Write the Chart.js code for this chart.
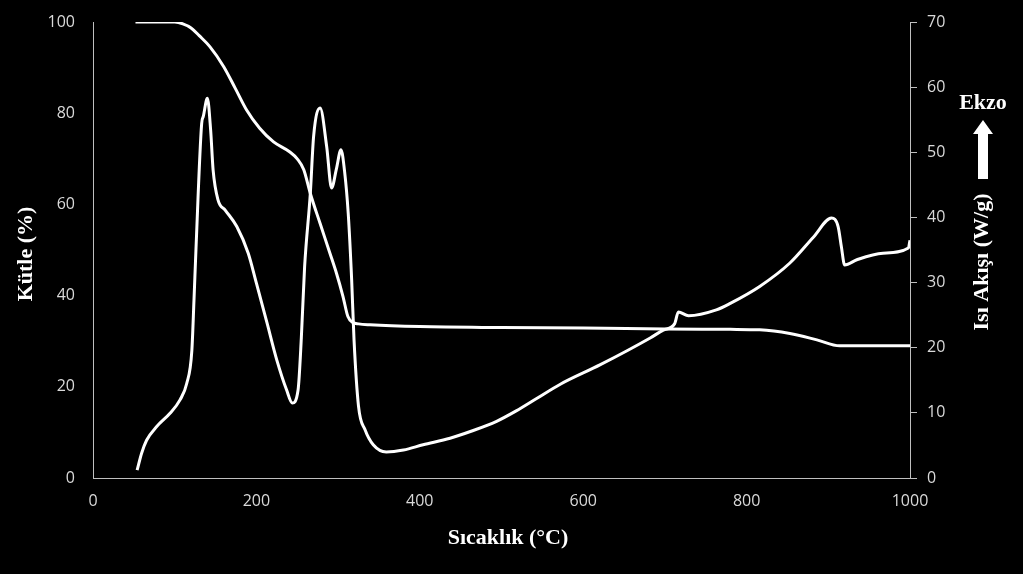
<!DOCTYPE html>
<html>
<head>
<meta charset="utf-8">
<script src="https://cdn.jsdelivr.net/npm/chart.js@4.4.1/dist/chart.umd.min.js"></script>
<style>
  html, body { margin: 0; padding: 0; background: #000; }
  #wrap { width: 1023px; height: 574px; }
</style>
</head>
<body>
<div id="wrap"><canvas id="tgaChart" width="1023" height="574"></canvas></div>
<script>
// TGA - mass (%) vs temperature
const massTemp = [52, 100, 110, 120, 130, 143, 160, 174, 188, 204, 221, 241, 250, 258, 266, 278, 290, 298, 306, 312, 318, 325, 339, 400, 500, 600, 700, 780, 816, 853, 886, 914, 1000];
const massVals = [100, 100, 99.6, 98.7, 97.0, 94.6, 90.2, 85.5, 80.7, 76.7, 73.7, 71.5, 70.0, 67.6, 62.4, 55.8, 49.3, 44.9, 39.8, 35.4, 34.1, 33.8, 33.6, 33.2, 33.0, 32.9, 32.7, 32.6, 32.5, 31.7, 30.3, 29.0, 29.0];

// DSC - heat flow (W/g) vs temperature
const heatTemp = [54, 59.5, 65.6, 78, 94, 106.5, 114.7, 121, 123.6, 126, 133, 135, 140, 144, 147, 153, 162, 176, 190, 200, 213, 225, 237, 244, 251, 255, 259, 266, 270, 278, 286, 292, 298, 303.5, 308, 312.4, 316.6, 319.5, 325, 333, 343, 359, 380, 404, 437, 461, 494, 518, 543, 572, 621, 682, 698, 712, 716.5, 729, 763, 780, 816, 853, 882, 904, 912, 916, 920, 935, 967, 998, 1000];
const heatVals = [1.2, 3.8, 5.8, 7.9, 9.9, 12, 14.5, 19.6, 27.3, 35, 54.4, 55.5, 58.3, 53.4, 47.3, 42.7, 41.1, 38.6, 34.5, 29.9, 23.8, 18.1, 13.5, 11.5, 13.5, 21.5, 32.4, 43.7, 52.4, 56.8, 50.9, 44.5, 47.5, 50.4, 47, 40.6, 30.4, 21.2, 11, 7.4, 5.1, 4.0, 4.3, 5.1, 6.1, 7.1, 8.7, 10.3, 12.2, 14.4, 17.4, 21.5, 22.7, 23.7, 25.5, 24.9, 25.8, 26.8, 29.4, 33.0, 37.0, 39.9, 38.6, 35.5, 32.7, 33.5, 34.5, 35.3, 36.5];

const xTicks = [0, 200, 400, 600, 800, 1000];

const axisColor = '#bfbfbf';
const tickColor = '#d9d9d9';
const tickFont = { family: 'Open Sans', size: 16 };
const titleFont = 'bold 22px "Liberation Serif"';

function toPoints(xs, ys) {
  return xs.map((x, i) => ({ x: x, y: ys[i] }));
}

// fixed width for the y axes, no extra label padding on top
function fixY(width) {
  return s => {
    s.width = width;
    s.paddingTop = 0;
    s.paddingBottom = 0;
  };
}

// Axis titles + Ekzo arrow
const titlesPlugin = {
  id: 'titles',
  afterDraw(chart) {
    const ctx = chart.ctx;
    ctx.save();
    ctx.fillStyle = '#ffffff';
    ctx.font = titleFont;
    ctx.textAlign = 'center';
    ctx.textBaseline = 'middle';

    ctx.fillText('Sıcaklık (°C)', 508, 538);
    ctx.fillText('Ekzo', 983, 103);

    ctx.save();
    ctx.translate(26, 254);
    ctx.rotate(-Math.PI / 2);
    ctx.fillText('Kütle (%)', 0, 0);
    ctx.restore();

    ctx.save();
    ctx.translate(982, 262);
    ctx.rotate(-Math.PI / 2);
    ctx.fillText('Isı Akışı (W/g)', 0, 0);
    ctx.restore();

    // arrow
    ctx.beginPath();
    ctx.moveTo(983, 120);
    ctx.lineTo(993, 134);
    ctx.lineTo(988, 134);
    ctx.lineTo(988, 179);
    ctx.lineTo(978, 179);
    ctx.lineTo(978, 134);
    ctx.lineTo(973, 134);
    ctx.closePath();
    ctx.fill();
    ctx.restore();
  }
};

new Chart(document.getElementById('tgaChart'), {
  type: 'line',
  data: {
    datasets: [
      {
        label: 'Kütle',
        data: toPoints(massTemp, massVals),
        yAxisID: 'y',
        borderColor: '#ffffff',
        borderWidth: 3,
        pointRadius: 0,
        cubicInterpolationMode: 'monotone'
      },
      {
        label: 'Isı Akışı',
        data: toPoints(heatTemp, heatVals),
        yAxisID: 'y1',
        borderColor: '#ffffff',
        borderWidth: 3,
        pointRadius: 0,
        cubicInterpolationMode: 'monotone'
      }
    ]
  },
  options: {
    responsive: false,
    animation: false,
    layout: { padding: { top: 22, left: 0, right: 0, bottom: 0 } },
    plugins: { legend: { display: false }, tooltip: { enabled: false } },
    scales: {
      x: {
        type: 'linear',
        min: 0, max: 1000,
        afterBuildTicks: s => { s.ticks = xTicks.map(v => ({ value: v })); },
        afterFit: s => { s.height = 96; },
        grid: { drawOnChartArea: false, drawTicks: false },
        border: { display: true, color: axisColor, width: 1 },
        ticks: { color: tickColor, font: tickFont, padding: 14, maxRotation: 0, callback: v => String(v) }
      },
      y: {
        position: 'left',
        min: 0, max: 100,
        afterFit: fixY(93),
        grid: { drawOnChartArea: false, drawTicks: false },
        border: { display: true, color: axisColor, width: 1 },
        ticks: { color: tickColor, font: tickFont, stepSize: 20, padding: 18 }
      },
      y1: {
        position: 'right',
        min: 0, max: 70,
        afterFit: fixY(113),
        grid: { drawOnChartArea: false, drawTicks: true, tickLength: 7, color: axisColor },
        border: { display: true, color: axisColor, width: 1 },
        ticks: { color: tickColor, font: tickFont, stepSize: 10, padding: 10 }
      }
    }
  },
  plugins: [titlesPlugin]
});
</script>
</body>
</html>
